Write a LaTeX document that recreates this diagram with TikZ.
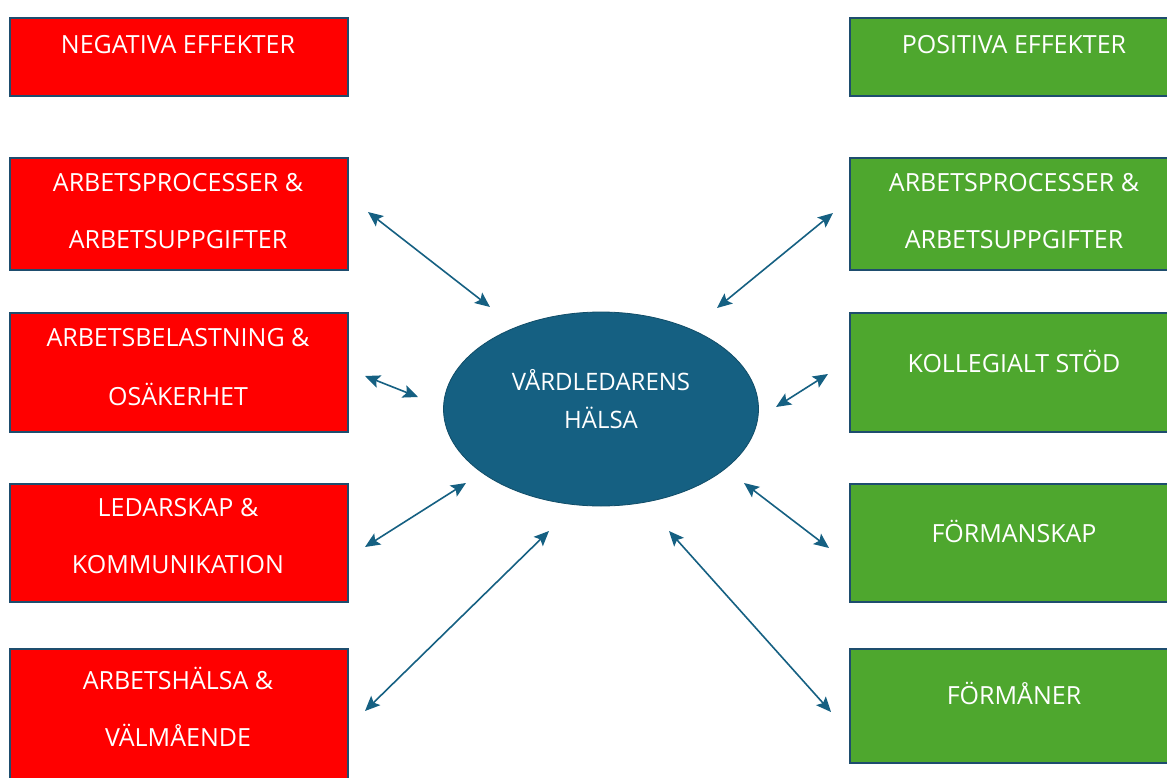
\documentclass[tikz,border=0pt]{standalone}
\usepackage{fontspec}
\setmainfont{Open Sans}
\usetikzlibrary{shapes.geometric,arrows.meta}
\definecolor{negred}{HTML}{FF0000}
\definecolor{posgreen}{HTML}{4EA72E}
\definecolor{edgeblue}{HTML}{1E4D6E}
\definecolor{teal}{HTML}{156082}
\tikzset{
  effbox/.style={rectangle, draw=edgeblue, line width=1.8pt, minimum width=338pt, inner sep=0pt},
  negbox/.style={effbox, fill=negred},
  posbox/.style={effbox, fill=posgreen},
  boxtext/.style={text=white, font=\fontsize{25}{57}\selectfont, align=center, inner sep=0pt},
  center/.style={ellipse, fill=teal, draw=teal!80!black, line width=0.8pt, minimum width=315pt, minimum height=194pt, inner sep=0pt},
  link/.style={draw=teal, line width=1.6pt, {Stealth[length=15pt,width=13pt,inset=3pt]}-{Stealth[length=15pt,width=13pt,inset=3pt]}}
}
\begin{document}
\begin{tikzpicture}[x=1pt,y=-1pt]
\clip (0,0) rectangle (1167,778);
\fill[white] (0,0) rectangle (1167,778);
% left boxes
\node[negbox, minimum height=78pt, anchor=north west] (n0) at (9,17) {};
\node[negbox, minimum height=112pt, anchor=north west] (n1) at (9,157) {};
\node[negbox, minimum height=119pt, anchor=north west] (n2) at (9,312) {};
\node[negbox, minimum height=118pt, anchor=north west] (n3) at (9,483) {};
\node[negbox, minimum height=150pt, anchor=north west] (n4) at (9,648) {};
% right boxes
\node[posbox, minimum height=78pt, anchor=north west] (p0) at (849,17) {};
\node[posbox, minimum height=112pt, anchor=north west] (p1) at (849,157) {};
\node[posbox, minimum height=119pt, anchor=north west] (p2) at (849,312) {};
\node[posbox, minimum height=118pt, anchor=north west] (p3) at (849,483) {};
\node[posbox, minimum height=114pt, anchor=north west] (p4) at (849,648) {};
% texts
\node[boxtext] (tn0) at (178,45) {NEGATIVA EFFEKTER};
\node[boxtext] (tn1a) at (178,183) {ARBETSPROCESSER \&};
\node[boxtext] (tn1b) at (178,240) {ARBETSUPPGIFTER};
\node[boxtext] (tn2a) at (178,338) {ARBETSBELASTNING \&};
\node[boxtext] (tn2b) at (178,394) {OSÄKERHET};
\node[boxtext] (tn3a) at (178,508) {LEDARSKAP \&};
\node[boxtext] (tn3b) at (178,565) {KOMMUNIKATION};
\node[boxtext] (tn4a) at (178,678) {ARBETSHÄLSA \&};
\node[boxtext] (tn4b) at (178,735) {VÄLMÅENDE};
\node[boxtext] (tp0) at (1014,45) {POSITIVA EFFEKTER};
\node[boxtext] (tp1a) at (1014,183) {ARBETSPROCESSER \&};
\node[boxtext] (tp1b) at (1014,240) {ARBETSUPPGIFTER};
\node[boxtext] (tp2) at (1014,361) {KOLLEGIALT STÖD};
\node[boxtext] (tp3) at (1014,531) {FÖRMANSKAP};
\node[boxtext] (tp4) at (1014,693) {FÖRMÅNER};
% center
\node[center] (c) at (601,409) {};
\node[text=white, font=\fontsize{24}{38}\selectfont, align=center, inner sep=0pt] (ct) at (601,399) {VÅRDLEDARENS\\HÄLSA};
% arrow end points
\coordinate (a1) at (368,212); \coordinate (b1) at (490,307);
\coordinate (a2) at (365,376); \coordinate (b2) at (418,397);
\coordinate (a3) at (365,547); \coordinate (b3) at (466,483);
\coordinate (a4) at (365,711); \coordinate (b4) at (549,531);
\coordinate (a5) at (833,213); \coordinate (b5) at (717,308);
\coordinate (a6) at (828,374); \coordinate (b6) at (776,407);
\coordinate (a7) at (829,548); \coordinate (b7) at (744,483);
\coordinate (a8) at (831,712); \coordinate (b8) at (669,531);
\foreach \i in {1,...,8} \draw[link] (a\i) -- (b\i);
\end{tikzpicture}
\end{document}
